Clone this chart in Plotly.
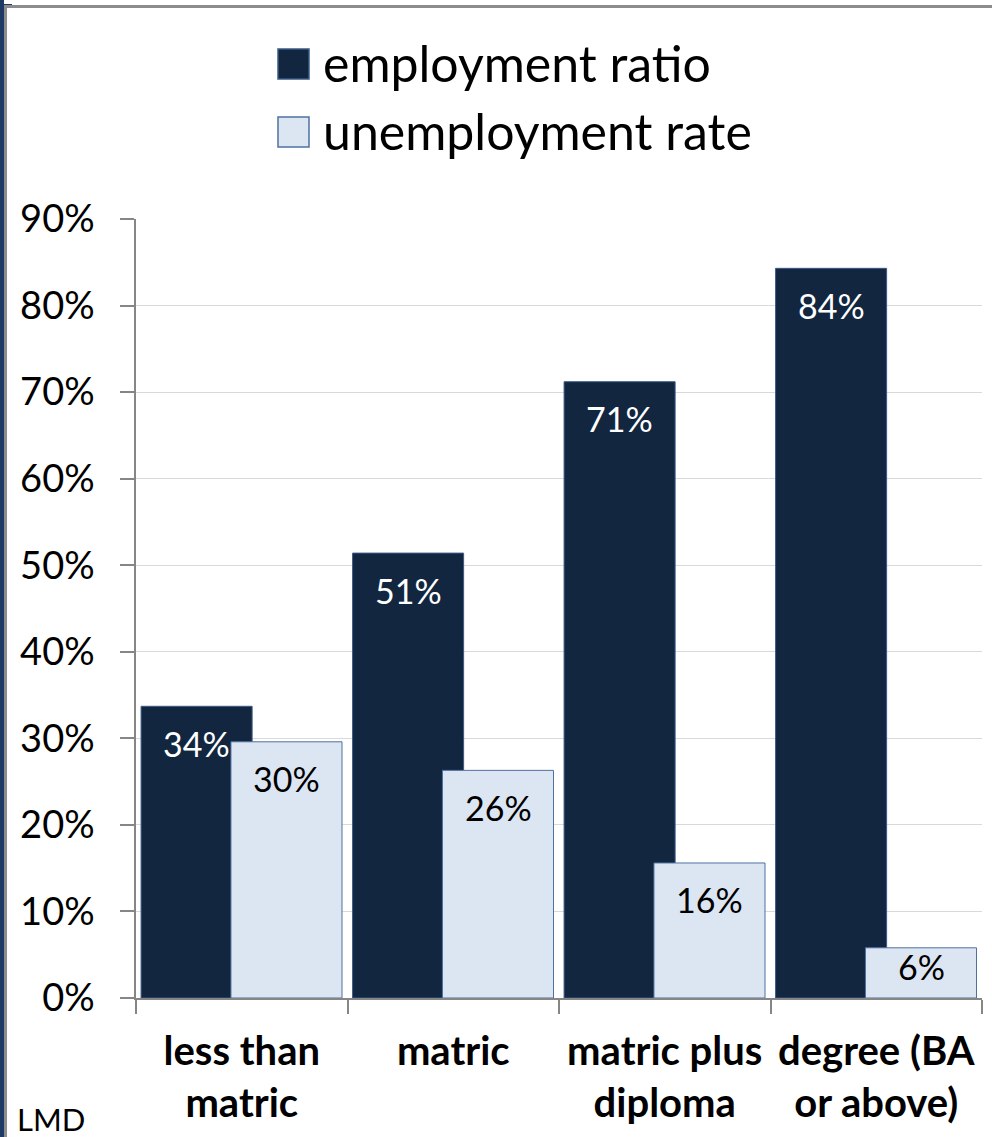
import plotly.graph_objects as go

# --- data ---------------------------------------------------------------
categories = ["less than<br>matric", "matric", "matric plus<br>diploma", "degree (BA<br>or above)"]
employment_ratio = [0.337, 0.514, 0.712, 0.843]
unemployment_rate = [0.296, 0.263, 0.156, 0.058]
series_names = ["employment ratio", "unemployment rate"]

# --- page geometry (pixels) ---------------------------------------------
W, H = 992, 1137
L, R, T, B = 136, 982, 219, 998
Y_MAX = 0.9
PX_PER_UNIT = (B - T) / Y_MAX


def px_x(x):
    return (x - L) / (R - L)


def px_y(y):
    return (B - y) / (B - T)


DARK = "#12263F"
DARK_LINE = "#3A5A85"
LIGHT = "#DCE6F2"
LIGHT_LINE = "#4F71A0"
FONT = "Lato"

BAR_W = 0.525
fig = go.Figure()
fig.add_trace(go.Bar(
    x=categories, y=employment_ratio, name=series_names[0],
    width=BAR_W, offset=-0.476,
    marker=dict(color=DARK, line=dict(color=DARK_LINE, width=1)),
    showlegend=False, hoverinfo="skip",
))
fig.add_trace(go.Bar(
    x=categories, y=unemployment_rate, name=series_names[1],
    width=BAR_W, offset=-0.051,
    marker=dict(color=LIGHT, line=dict(color=LIGHT_LINE, width=1)),
    showlegend=False, hoverinfo="skip",
))

annotations = []
# value labels just inside the top of each bar
for vals, xshift, col in ((employment_ratio, -45, "white"), (unemployment_rate, 45, "black")):
    for cat, v in zip(categories, vals):
        bar_px = v * PX_PER_UNIT
        drop = min(37, bar_px * 0.38)
        annotations.append(dict(
            x=cat, y=v, xref="x", yref="y", text=f"{v:.0%}",
            showarrow=False, xshift=xshift, yshift=-drop,
            yanchor="middle", xanchor="center",
            font=dict(family=FONT, size=34, color=col),
        ))

# legend drawn as squares with text
shapes = []
legend_rows = [(DARK, DARK_LINE, 49, 79, series_names[0]), (LIGHT, LIGHT_LINE, 117, 147, series_names[1])]
for fill, line, y0, y1, label in legend_rows:
    shapes.append(dict(type="rect", xref="paper", yref="paper",
                       x0=px_x(278), x1=px_x(309), y0=px_y(y1), y1=px_y(y0),
                       fillcolor=fill, line=dict(color=line, width=1.5)))
    annotations.append(dict(xref="paper", yref="paper", x=px_x(321), y=px_y((y0 + y1) / 2 - 1),
                            text=label, showarrow=False, xanchor="left", yanchor="middle",
                            font=dict(family=FONT, size=50, color="black")))

# frame: dark strip on the left, grey rules on the left and top
shapes.append(dict(type="rect", xref="paper", yref="paper", x0=px_x(0), x1=px_x(4),
                   y0=px_y(H), y1=px_y(0), fillcolor="#1C3A63", line=dict(width=0), layer="above"))
shapes.append(dict(type="rect", xref="paper", yref="paper", x0=px_x(0), x1=px_x(12),
                   y0=px_y(7), y1=px_y(4), fillcolor="#1C3A63", line=dict(width=0), layer="above"))
shapes.append(dict(type="line", xref="paper", yref="paper", x0=px_x(5.5), x1=px_x(5.5),
                   y0=px_y(H), y1=px_y(5), line=dict(color="#8C8C8C", width=3), layer="above"))
shapes.append(dict(type="line", xref="paper", yref="paper", x0=px_x(4), x1=px_x(W),
                   y0=px_y(6.5), y1=px_y(6.5), line=dict(color="#8C8C8C", width=3), layer="above"))

annotations.append(dict(xref="paper", yref="paper", x=px_x(15), y=px_y(1140),
                        text="LMD", showarrow=False, xanchor="left", yanchor="bottom",
                        font=dict(family=FONT, size=31, color="black")))

fig.update_layout(
    width=W, height=H,
    margin=dict(l=L, r=W - R, t=T, b=H - B),
    paper_bgcolor="white", plot_bgcolor="white",
    barmode="overlay", showlegend=False,
    font=dict(family=FONT, color="black"),
    shapes=shapes, annotations=annotations,
    xaxis=dict(
        type="category", showline=True, linecolor="#868686", linewidth=1.5,
        ticks="outside", tickson="boundaries", ticklen=14, tickcolor="#868686", tickwidth=1.5,
        tickfont=dict(family=FONT, size=40, color="black", weight="bold"),
        ticklabelstandoff=17,
        showgrid=False, fixedrange=True,
    ),
    yaxis=dict(
        range=[0, Y_MAX], dtick=0.1, tickformat=".0%",
        showline=True, linecolor="#868686", linewidth=1.5,
        ticks="outside", ticklen=14, tickcolor="#868686", tickwidth=1.5,
        gridcolor="#D9D9D9", gridwidth=1.2, zeroline=False,
        tickfont=dict(family=FONT, size=38, color="black"),
        ticklabelstandoff=18, fixedrange=True,
    ),
)

# keep the page itself from showing scrollbars around the fixed-size figure
page_style = (
    "document.documentElement.style.overflow='hidden';"
    "document.body.style.overflow='hidden';"
    "document.body.style.margin='0';"
)
fig.write_html("out.html", config={"displayModeBar": False}, post_script=page_style)
